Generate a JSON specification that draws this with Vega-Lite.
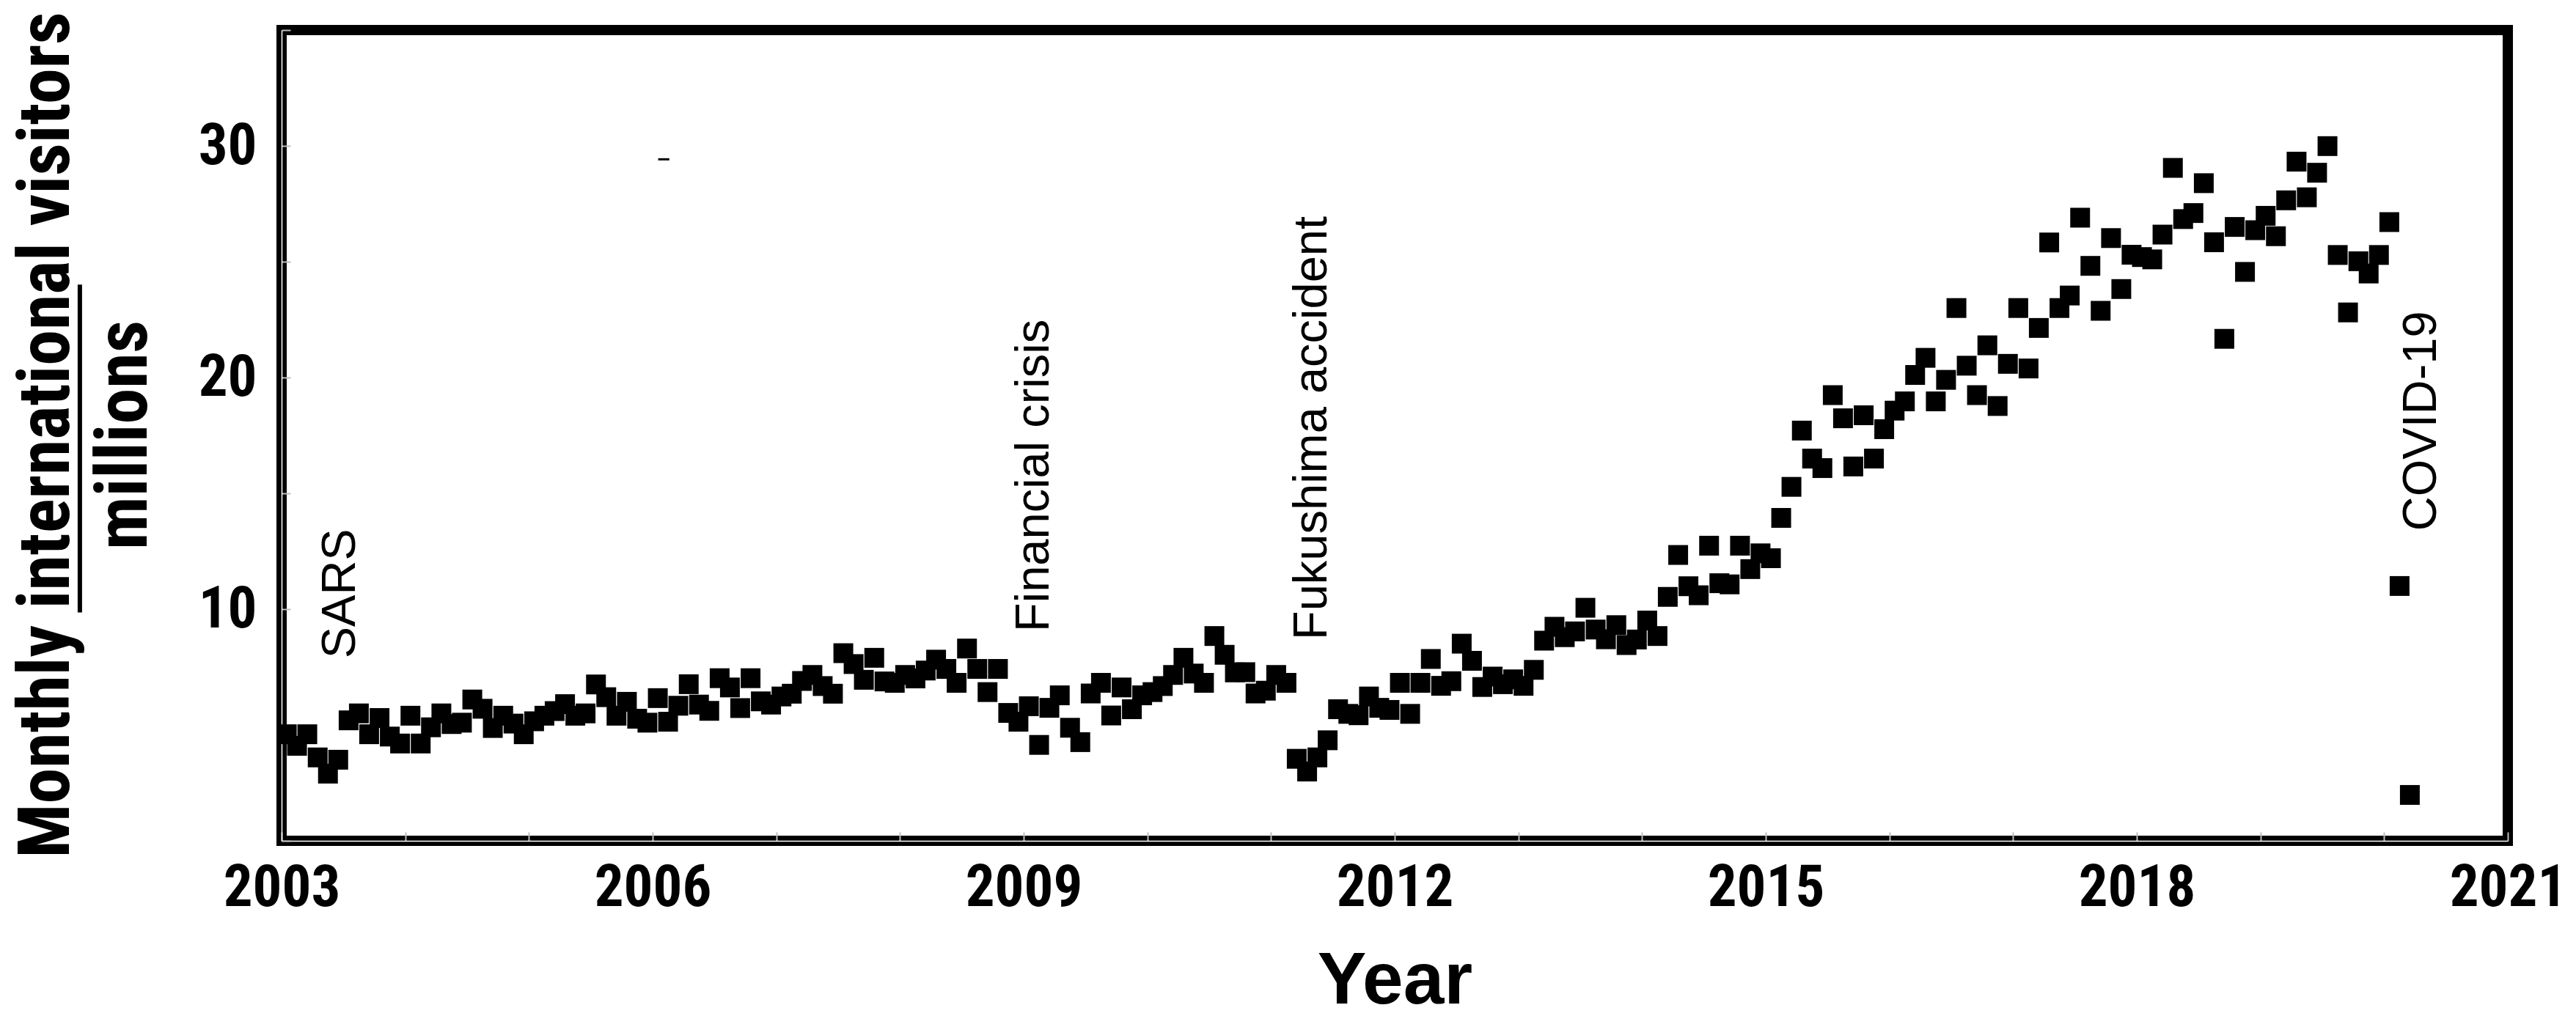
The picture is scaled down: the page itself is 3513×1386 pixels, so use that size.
{
  "$schema": "https://vega.github.io/schema/vega-lite/v6.json",
  "width": 3036,
  "height": 1106,
  "autosize": {"type": "none"},
  "padding": {"left": 384, "top": 41, "right": 93, "bottom": 239},
  "background": "white",
  "config": {
    "view": {"stroke": "black", "strokeWidth": 14},
    "axis": {"grid": false}
  },
  "datasets": {
    "visitors": [
      {"t": 2003.042, "v": 4.6}, {"t": 2003.125, "v": 4.1}, {"t": 2003.208, "v": 4.6}, {"t": 2003.292, "v": 3.6}, {"t": 2003.375, "v": 2.9}, {"t": 2003.458, "v": 3.5}, {"t": 2003.542, "v": 5.2}, {"t": 2003.625, "v": 5.5}, {"t": 2003.708, "v": 4.6}, {"t": 2003.792, "v": 5.3}, {"t": 2003.875, "v": 4.5}, {"t": 2003.958, "v": 4.2},
      {"t": 2004.042, "v": 5.4}, {"t": 2004.125, "v": 4.2}, {"t": 2004.208, "v": 4.9}, {"t": 2004.292, "v": 5.5}, {"t": 2004.375, "v": 5.04}, {"t": 2004.458, "v": 5.1}, {"t": 2004.542, "v": 6.1}, {"t": 2004.625, "v": 5.7}, {"t": 2004.708, "v": 4.87}, {"t": 2004.792, "v": 5.4}, {"t": 2004.875, "v": 5.06}, {"t": 2004.958, "v": 4.6},
      {"t": 2005.042, "v": 5.16}, {"t": 2005.125, "v": 5.4}, {"t": 2005.208, "v": 5.6}, {"t": 2005.292, "v": 5.9}, {"t": 2005.375, "v": 5.4}, {"t": 2005.458, "v": 5.5}, {"t": 2005.542, "v": 6.75}, {"t": 2005.625, "v": 6.2}, {"t": 2005.708, "v": 5.4}, {"t": 2005.792, "v": 6.0}, {"t": 2005.875, "v": 5.27}, {"t": 2005.958, "v": 5.1},
      {"t": 2006.042, "v": 6.16}, {"t": 2006.125, "v": 5.14}, {"t": 2006.208, "v": 5.83}, {"t": 2006.292, "v": 6.76}, {"t": 2006.375, "v": 5.88}, {"t": 2006.458, "v": 5.61}, {"t": 2006.542, "v": 7.02}, {"t": 2006.625, "v": 6.62}, {"t": 2006.708, "v": 5.73}, {"t": 2006.792, "v": 7.02}, {"t": 2006.875, "v": 6.02}, {"t": 2006.958, "v": 5.88},
      {"t": 2007.042, "v": 6.23}, {"t": 2007.125, "v": 6.35}, {"t": 2007.208, "v": 6.9}, {"t": 2007.292, "v": 7.16}, {"t": 2007.375, "v": 6.68}, {"t": 2007.458, "v": 6.35}, {"t": 2007.542, "v": 8.1}, {"t": 2007.625, "v": 7.63}, {"t": 2007.708, "v": 6.95}, {"t": 2007.792, "v": 7.9}, {"t": 2007.875, "v": 6.88}, {"t": 2007.958, "v": 6.82},
      {"t": 2008.042, "v": 7.16}, {"t": 2008.125, "v": 7.01}, {"t": 2008.208, "v": 7.35}, {"t": 2008.292, "v": 7.82}, {"t": 2008.375, "v": 7.42}, {"t": 2008.458, "v": 6.82}, {"t": 2008.542, "v": 8.3}, {"t": 2008.625, "v": 7.42}, {"t": 2008.708, "v": 6.42}, {"t": 2008.792, "v": 7.42}, {"t": 2008.875, "v": 5.52}, {"t": 2008.958, "v": 5.14},
      {"t": 2009.042, "v": 5.81}, {"t": 2009.125, "v": 4.14}, {"t": 2009.208, "v": 5.74}, {"t": 2009.292, "v": 6.28}, {"t": 2009.375, "v": 4.88}, {"t": 2009.458, "v": 4.26}, {"t": 2009.542, "v": 6.36}, {"t": 2009.625, "v": 6.82}, {"t": 2009.708, "v": 5.41}, {"t": 2009.792, "v": 6.62}, {"t": 2009.875, "v": 5.68}, {"t": 2009.958, "v": 6.28},
      {"t": 2010.042, "v": 6.42}, {"t": 2010.125, "v": 6.68}, {"t": 2010.208, "v": 7.16}, {"t": 2010.292, "v": 7.9}, {"t": 2010.375, "v": 7.22}, {"t": 2010.458, "v": 6.82}, {"t": 2010.542, "v": 8.84}, {"t": 2010.625, "v": 8.03}, {"t": 2010.708, "v": 7.27}, {"t": 2010.792, "v": 7.28}, {"t": 2010.875, "v": 6.36}, {"t": 2010.958, "v": 6.48},
      {"t": 2011.042, "v": 7.16}, {"t": 2011.125, "v": 6.82}, {"t": 2011.208, "v": 3.54}, {"t": 2011.292, "v": 2.99}, {"t": 2011.375, "v": 3.6}, {"t": 2011.458, "v": 4.34}, {"t": 2011.542, "v": 5.68}, {"t": 2011.625, "v": 5.48}, {"t": 2011.708, "v": 5.42}, {"t": 2011.792, "v": 6.23}, {"t": 2011.875, "v": 5.74}, {"t": 2011.958, "v": 5.65},
      {"t": 2012.042, "v": 6.82}, {"t": 2012.125, "v": 5.48}, {"t": 2012.208, "v": 6.82}, {"t": 2012.292, "v": 7.85}, {"t": 2012.375, "v": 6.69}, {"t": 2012.458, "v": 6.89}, {"t": 2012.542, "v": 8.51}, {"t": 2012.625, "v": 7.77}, {"t": 2012.708, "v": 6.64}, {"t": 2012.792, "v": 7.09}, {"t": 2012.875, "v": 6.76}, {"t": 2012.958, "v": 6.97},
      {"t": 2013.042, "v": 6.69}, {"t": 2013.125, "v": 7.38}, {"t": 2013.208, "v": 8.64}, {"t": 2013.292, "v": 9.24}, {"t": 2013.375, "v": 8.79}, {"t": 2013.458, "v": 9.04}, {"t": 2013.542, "v": 10.06}, {"t": 2013.625, "v": 9.12}, {"t": 2013.708, "v": 8.7}, {"t": 2013.792, "v": 9.31}, {"t": 2013.875, "v": 8.45}, {"t": 2013.958, "v": 8.69},
      {"t": 2014.042, "v": 9.51}, {"t": 2014.125, "v": 8.84}, {"t": 2014.208, "v": 10.53}, {"t": 2014.292, "v": 12.34}, {"t": 2014.375, "v": 10.99}, {"t": 2014.458, "v": 10.6}, {"t": 2014.542, "v": 12.74}, {"t": 2014.625, "v": 11.12}, {"t": 2014.708, "v": 11.07}, {"t": 2014.792, "v": 12.74}, {"t": 2014.875, "v": 11.73}, {"t": 2014.958, "v": 12.41},
      {"t": 2015.042, "v": 12.2}, {"t": 2015.125, "v": 13.94}, {"t": 2015.208, "v": 15.28}, {"t": 2015.292, "v": 17.71}, {"t": 2015.375, "v": 16.5}, {"t": 2015.458, "v": 16.09}, {"t": 2015.542, "v": 19.24}, {"t": 2015.625, "v": 18.24}, {"t": 2015.708, "v": 16.16}, {"t": 2015.792, "v": 18.37}, {"t": 2015.875, "v": 16.5}, {"t": 2015.958, "v": 17.77},
      {"t": 2016.042, "v": 18.57}, {"t": 2016.125, "v": 18.97}, {"t": 2016.208, "v": 20.11}, {"t": 2016.292, "v": 20.85}, {"t": 2016.375, "v": 18.97}, {"t": 2016.458, "v": 19.9}, {"t": 2016.542, "v": 23.0}, {"t": 2016.625, "v": 20.51}, {"t": 2016.708, "v": 19.24}, {"t": 2016.792, "v": 21.39}, {"t": 2016.875, "v": 18.77}, {"t": 2016.958, "v": 20.59},
      {"t": 2017.042, "v": 23.0}, {"t": 2017.125, "v": 20.39}, {"t": 2017.208, "v": 22.14}, {"t": 2017.292, "v": 25.83}, {"t": 2017.375, "v": 23.0}, {"t": 2017.458, "v": 23.54}, {"t": 2017.542, "v": 26.9}, {"t": 2017.625, "v": 24.82}, {"t": 2017.708, "v": 22.88}, {"t": 2017.792, "v": 26.02}, {"t": 2017.875, "v": 23.82}, {"t": 2017.958, "v": 25.3},
      {"t": 2018.042, "v": 25.2}, {"t": 2018.125, "v": 25.1}, {"t": 2018.208, "v": 26.17}, {"t": 2018.292, "v": 29.05}, {"t": 2018.375, "v": 26.84}, {"t": 2018.458, "v": 27.1}, {"t": 2018.542, "v": 28.39}, {"t": 2018.625, "v": 25.84}, {"t": 2018.708, "v": 21.67}, {"t": 2018.792, "v": 26.5}, {"t": 2018.875, "v": 24.56}, {"t": 2018.958, "v": 26.36},
      {"t": 2019.042, "v": 26.98}, {"t": 2019.125, "v": 26.1}, {"t": 2019.208, "v": 27.65}, {"t": 2019.292, "v": 29.32}, {"t": 2019.375, "v": 27.78}, {"t": 2019.458, "v": 28.84}, {"t": 2019.542, "v": 29.99}, {"t": 2019.625, "v": 25.29}, {"t": 2019.708, "v": 22.81}, {"t": 2019.792, "v": 25.02}, {"t": 2019.875, "v": 24.49}, {"t": 2019.958, "v": 25.29},
      {"t": 2020.042, "v": 26.71}, {"t": 2020.125, "v": 11.0}, {"t": 2020.208, "v": 1.98}
    ],
    "events": [
      {"t": 2003.592, "v": 7.87, "label": "SARS"},
      {"t": 2009.203, "v": 9.02, "label": "Financial crisis"},
      {"t": 2011.451, "v": 8.67, "label": "Fukushima accident"},
      {"t": 2020.418, "v": 13.38, "label": "COVID-19"}
    ],
    "bar": [{"t": 2001.369, "v": 9.86, "v2": 24.01}],
    "dash": [{"t": 2006.045, "t2": 2006.135, "v": 29.42}]
  },
  "layer": [
    {
      "data": {"name": "visitors"},
      "mark": {"type": "square", "size": 729, "color": "black", "opacity": 1, "filled": true},
      "encoding": {
        "x": {
          "field": "t", "type": "quantitative",
          "scale": {"domain": [2003, 2021], "nice": false, "zero": false},
          "axis": {
            "values": [2003, 2004, 2005, 2006, 2007, 2008, 2009, 2010, 2011, 2012, 2013, 2014, 2015, 2016, 2017, 2018, 2019, 2020, 2021],
            "labelExpr": "(datum.value - 2003) % 3 === 0 ? format(datum.value, 'd') : ''",
            "labelFont": "Roboto Condensed, Liberation Sans", "labelFontWeight": "bold", "labelFontSize": 79, "labelColor": "black",
            "labelPadding": 38, "labelOverlap": false, "labelFlush": false, "labelBound": false,
            "domainColor": "white", "domainWidth": 1.5,
            "tickColor": "#bdbdbd", "tickWidth": 2, "tickSize": -12,
            "title": "Year", "titleFont": "Liberation Sans", "titleFontWeight": "bold", "titleFontSize": 100, "titleColor": "black",
            "titleX": 1518, "titleY": 221, "titleAlign": "center", "titleBaseline": "alphabetic"
          }
        },
        "y": {
          "field": "v", "type": "quantitative",
          "scale": {"domain": [0, 35], "nice": false, "zero": false},
          "axis": {
            "values": [0, 5, 10, 15, 20, 25, 30, 35],
            "labelExpr": "datum.value % 10 === 0 && datum.value > 0 ? datum.label : ''",
            "labelFont": "Roboto Condensed, Liberation Sans", "labelFontWeight": "bold", "labelFontSize": 79, "labelColor": "black",
            "labelPadding": 46, "labelOverlap": false, "labelFlush": false, "labelBound": false,
            "domainColor": "white", "domainWidth": 1.5,
            "tickColor": "#bdbdbd", "tickWidth": 2, "tickSize": -12,
            "title": ["Monthly international visitors", "millions"],
            "titleFont": "Roboto Condensed, Liberation Sans", "titleFontWeight": "bold", "titleFontSize": 98, "titleColor": "black",
            "titleLineHeight": 106, "titleAngle": 270,
            "titleX": -291, "titleY": 552, "titleAlign": "center", "titleBaseline": "alphabetic"
          }
        }
      }
    },
    {
      "data": {"name": "events"},
      "mark": {"type": "text", "angle": 270, "align": "left", "baseline": "alphabetic", "font": "Liberation Sans", "fontSize": 65, "color": "black"},
      "encoding": {
        "x": {"field": "t", "type": "quantitative", "scale": {"domain": [2003, 2021], "nice": false, "zero": false}},
        "y": {"field": "v", "type": "quantitative", "scale": {"domain": [0, 35], "nice": false, "zero": false}},
        "text": {"field": "label"}
      }
    },
    {
      "data": {"name": "bar"},
      "mark": {"type": "rule", "color": "black", "strokeWidth": 6, "clip": false},
      "encoding": {
        "x": {"field": "t", "type": "quantitative", "scale": {"domain": [2003, 2021], "nice": false, "zero": false}},
        "y": {"field": "v", "type": "quantitative", "scale": {"domain": [0, 35], "nice": false, "zero": false}},
        "y2": {"field": "v2"}
      }
    },
    {
      "data": {"name": "dash"},
      "mark": {"type": "rule", "color": "black", "strokeWidth": 3},
      "encoding": {
        "x": {"field": "t", "type": "quantitative", "scale": {"domain": [2003, 2021], "nice": false, "zero": false}},
        "x2": {"field": "t2"},
        "y": {"field": "v", "type": "quantitative", "scale": {"domain": [0, 35], "nice": false, "zero": false}}
      }
    }
  ]
}
